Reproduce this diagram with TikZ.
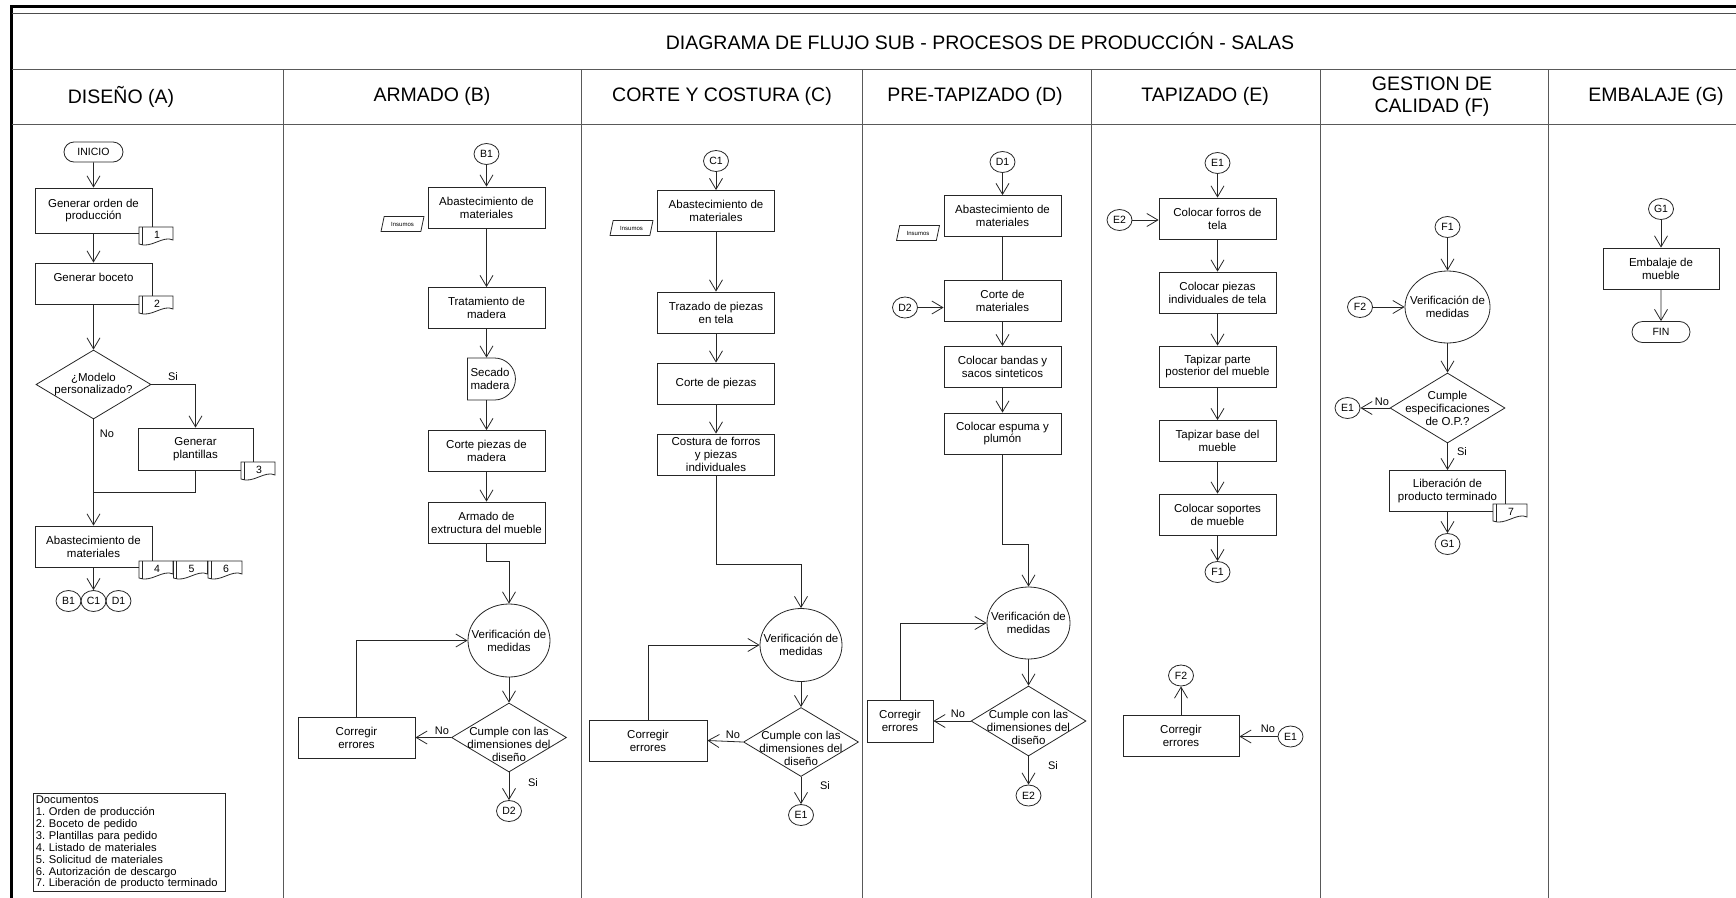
\documentclass[tikz,border=0pt]{standalone}
\usepackage{fontspec}
\setmainfont{Liberation Sans}
\usetikzlibrary{arrows.meta,shapes.geometric,shapes.misc,calc}
\frenchspacing
\newcommand{\bodyfont}{\fontsize{11.5}{12.9}\selectfont}
\tikzset{
  ln/.style={line width=0.8pt, draw=black!85},
  arr/.style={ln, -{Straight Barb[length=11pt,width=13pt]}},
  lane/.style={line width=1pt, draw=black!65},
  procbox/.style={ln, rectangle, minimum width=117pt, minimum height=41pt, align=center, inner sep=1pt, font=\bodyfont},
  dec/.style={ln, diamond, minimum width=115pt, minimum height=69pt, inner sep=0pt},
  ver/.style={ln, ellipse, minimum width=82pt, minimum height=73pt, inner sep=0pt},
  txt/.style={align=center, font=\bodyfont, inner sep=0pt},
  conn/.style={ln, ellipse, minimum width=25pt, minimum height=21pt, inner sep=0pt, font=\fontsize{10.5}{11}\selectfont},
  termn/.style={ln, rounded rectangle, minimum width=59pt, minimum height=20pt, inner sep=0pt, font=\fontsize{10.5}{11}\selectfont},
  delayn/.style={ln, rounded rectangle, rounded rectangle left arc=none, minimum width=48pt, minimum height=42pt, align=center, inner sep=0pt, font=\bodyfont},
  insn/.style={ln, trapezium, trapezium left angle=65, trapezium right angle=115, trapezium stretches=true, minimum width=43pt, minimum height=15pt, inner sep=0pt, font=\fontsize{6}{6}\selectfont},
  docn/.style={inner sep=0pt, font=\fontsize{10.5}{11}\selectfont},
  lbl/.style={inner sep=1pt, font=\fontsize{11}{12}\selectfont},
  hdr/.style={align=center, font=\fontsize{19.5}{22}\selectfont, inner sep=0pt}
}
\newcommand{\docsym}[4]{%
  \draw[ln, fill=white] ({#2-17},{#3-9}) -- ({#2+17},{#3-9}) -- ({#2+17},{#3+4})
     .. controls ({#2+7},{#3-1}) and ({#2-5},{#3+13}) .. ({#2-17},{#3+8}) -- cycle;
  \draw[ln] ({#2-14},{#3-9}) -- ({#2-14},{#3+8.6});
  \node[docn] (#1) at ({#2+1},{#3-1.5}) {#4};
}
\begin{document}
\begin{tikzpicture}[x=1pt,y=-1pt]
\useasboundingbox (0,0) rectangle (1736,897);
% frame and lanes
\draw[line width=3pt] (11,920) -- (11,6) -- (1760,6);
\draw[line width=0.8pt, draw=black!70] (12,13.5) -- (1760,13.5);
\draw[lane] (12,69) -- (1760,69);
\draw[lane] (12,124) -- (1760,124);
\foreach \xx in {283,581,862,1091,1320,1548} \draw[lane] (\xx,69) -- (\xx,920);
% titles
\node[hdr] (title) at (980,41) {DIAGRAMA DE FLUJO SUB - PROCESOS DE PRODUCCIÓN - SALAS};
\node[hdr] (hA) at (121,96.5) {DISEÑO (A)};
\node[hdr] (hB) at (432,96.5) {ARMADO (B)};
\node[hdr] (hC) at (722,96.5) {CORTE Y COSTURA (C)};
\node[hdr] (hD) at (975,96.5) {PRE-TAPIZADO (D)};
\node[hdr] (hE) at (1205,96.5) {TAPIZADO (E)};
\node[hdr] (hF) at (1432,96.5) {GESTION DE\\CALIDAD (F)};
\node[hdr] (hG) at (1656,96.5) {EMBALAJE (G)};

% ---------- DISEÑO ----------
\node[termn] (ini) at (93.5,152) {INICIO};
\node[procbox, minimum height=45pt] (a1) at (93.5,210.5) {Generar orden de\\producción};
\docsym{doc1}{156}{236}{1}
\node[procbox] (a2) at (93.5,283.5) {Generar boceto\\~};
\docsym{doc2}{156}{305}{2}
\node[dec] (a3) at (93.5,384.5) {};
\node[txt] (a3t) at (93.5,384.5) {¿Modelo\\personalizado?};
\node[procbox, minimum width=115pt, minimum height=42pt] (a4) at (195.5,449) {Generar\\plantillas};
\docsym{doc3}{258}{471}{3}
\coordinate (m1) at (93.5,492);
\node[procbox] (a5) at (93.5,546.5) {Abastecimiento de\\materiales};
\docsym{doc4}{156}{570}{4}
\docsym{doc5}{190.5}{570}{5}
\docsym{doc6}{225}{570}{6}
\node[conn] (cb1) at (68.5,601) {B1};
\node[conn] (cc1) at (93.5,601) {C1};
\node[conn] (cd1) at (118.5,601) {D1};
\node[ln, anchor=north west, align=left, text width=187pt, inner sep=2.5pt, font=\fontsize{11.2}{11.9}\selectfont] (docs) at (33,793)
 {Documentos\\1. Orden de producción\\2. Boceto de pedido\\3. Plantillas para pedido\\4. Listado de materiales\\5. Solicitud de materiales\\6. Autorización de descargo\\7. Liberación de producto terminado};
\draw[arr] (ini) -- (a1);
\draw[arr] (a1) -- (a2);
\draw[arr] (a2) -- (a3);
\draw[arr] (a3.east) -| (a4.north);
\node[lbl] (lsi1) at (173,377) {Si};
\draw[ln] (a3.south) -- (m1);
\node[lbl] (lno1) at (107,434) {No};
\draw[ln] (a4.south) |- (m1);
\draw[arr] (m1) -- (a5);
\draw[arr] (a5) -- (cc1);

% ---------- ARMADO ----------
\node[conn] (cb1b) at (486.5,154) {B1};
\node[procbox] (b1) at (486.5,207.5) {Abastecimiento de\\materiales};
\node[insn] (ins1) at (402.5,224) {Insumos};
\node[procbox] (b2) at (486.5,308) {Tratamiento de\\madera};
\node[delayn] (b3) at (490,379) {Secado\\madera};
\node[procbox] (b4) at (486.5,451) {Corte piezas de\\madera};
\node[procbox] (b5) at (486.5,522.5) {Armado de\\extructura del mueble};
\node[ver] (b6) at (509,640.5) {};
\node[txt] (b6t) at (509,640.5) {Verificación de\\medidas};
\node[dec] (b7) at (509,737.5) {};
\node[txt] (b7t) at (509,744) {Cumple con las\\dimensiones del\\diseño};
\node[procbox] (b8) at (356.5,737.5) {Corregir\\errores};
\node[conn] (cd2a) at (509,811) {D2};
\draw[arr] (cb1b) -- (b1);
\draw[arr] (b1) -- (b2);
\draw[arr] (b2.south) -- (b2.south |- b3.north);
\draw[arr] (b2.south |- b3.south) -- (b4.north);
\draw[arr] (b4) -- (b5);
\draw[arr] (b5.south) -- ++(0,17.5) -| (b6.north);
\draw[arr] (b6) -- (b7);
\draw[arr] (b7.west) -- (b8.east);
\node[lbl] (lno2) at (442,731) {No};
\draw[arr] (b8.north) |- (b6.west);
\draw[arr] (b7.south) -- (cd2a.north);
\node[lbl] (lsi2) at (533,783) {Si};

% ---------- CORTE Y COSTURA ----------
\node[conn] (cc1b) at (716,161) {C1};
\node[procbox] (c1) at (716,211) {Abastecimiento de\\materiales};
\node[insn] (ins2) at (631.5,228) {Insumos};
\node[procbox] (c2) at (716,312.5) {Trazado de piezas\\en tela};
\node[procbox] (c3) at (716,383.5) {Corte de piezas};
\node[procbox] (c4) at (716,454.5) {Costura de forros\\y piezas\\individuales};
\node[ver] (c5) at (801,645) {};
\node[txt] (c5t) at (801,645) {Verificación de\\medidas};
\node[dec] (c6) at (801,742) {};
\node[txt] (c6t) at (801,748) {Cumple con las\\dimensiones del\\diseño};
\node[procbox, minimum width=118pt] (c7) at (648,740.5) {Corregir\\errores};
\node[conn] (ce1a) at (801,815) {E1};
\draw[arr] (cc1b) -- (c1);
\draw[arr] (c1) -- (c2);
\draw[arr] (c2) -- (c3);
\draw[arr] (c3) -- (c4);
\draw[arr] (c4.south) -- ++(0,88.5) -| (c5.north);
\draw[arr] (c5) -- (c6);
\draw[arr] (c6.west) -- (c7.east);
\node[lbl] (lno3) at (733,735) {No};
\draw[arr] (c7.north) |- (c5.west);
\draw[arr] (c6.south) -- (ce1a.north);
\node[lbl] (lsi3) at (825,786) {Si};

% ---------- PRE-TAPIZADO ----------
\node[conn] (cd1b) at (1002.5,162) {D1};
\node[procbox] (d1) at (1002.5,216) {Abastecimiento de\\materiales};
\node[insn] (ins3) at (918,233) {Insumos};
\node[procbox] (d2) at (1002.5,300.5) {Corte de\\materiales};
\node[conn] (cd2b) at (905,307.5) {D2};
\node[procbox] (d3) at (1002.5,367) {Colocar bandas y\\sacos sinteticos};
\node[procbox] (d4) at (1002.5,433.5) {Colocar espuma y\\plumón};
\node[ver, minimum width=83pt, minimum height=72pt] (d5) at (1028.5,623) {};
\node[txt] (d5t) at (1028.5,623) {Verificación de\\medidas};
\node[dec, minimum height=70pt] (d6) at (1028.5,721) {};
\node[txt] (d6t) at (1028.5,727) {Cumple con las\\dimensiones del\\diseño};
\node[procbox, minimum width=66pt, minimum height=42pt] (d7) at (900,721) {Corregir\\errores};
\node[conn] (ce2a) at (1028.5,795.5) {E2};
\draw[arr] (cd1b) -- (d1);
\draw[ln] (d1) -- (d2);
\draw[arr] (cd2b.east) -- (cd2b.east -| d2.west);
\draw[arr] (d2) -- (d3);
\draw[arr] (d3) -- (d4);
\draw[arr] (d4.south) -- ++(0,89.5) -| (d5.north);
\draw[arr] (d5) -- (d6);
\draw[arr] (d6.west) -- (d7.east);
\node[lbl] (lno4) at (958,714) {No};
\draw[arr] (d7.north) |- (d5.west);
\draw[arr] (d6.south) -- (ce2a.north);
\node[lbl] (lsi4) at (1053,766) {Si};

% ---------- TAPIZADO ----------
\node[conn] (ce1b) at (1217.5,163) {E1};
\node[procbox] (e1) at (1217.5,218.5) {Colocar forros de\\tela};
\node[conn] (ce2b) at (1119.5,220) {E2};
\node[procbox] (e2) at (1217.5,292.5) {Colocar piezas\\individuales de tela};
\node[procbox] (e3) at (1217.5,366.5) {Tapizar parte\\posterior del mueble};
\node[procbox] (e4) at (1217.5,441) {Tapizar base del\\mueble};
\node[procbox] (e5) at (1217.5,514.5) {Colocar soportes\\de mueble};
\node[conn] (cf1a) at (1217.5,572) {F1};
\node[conn] (cf2a) at (1181,675.5) {F2};
\node[procbox, minimum width=116pt] (e6) at (1181,735.5) {Corregir\\errores};
\node[conn] (ce1c) at (1290.5,736.5) {E1};
\draw[arr] (ce1b) -- (e1);
\draw[arr] (ce2b.east) -- (ce2b.east -| e1.west);
\draw[arr] (e1) -- (e2);
\draw[arr] (e2) -- (e3);
\draw[arr] (e3) -- (e4);
\draw[arr] (e4) -- (e5);
\draw[arr] (e5) -- (cf1a);
\draw[arr] (e6.north) -- (cf2a.south);
\draw[arr] (ce1c.west) -- (ce1c.west -| e6.east);
\node[lbl] (lno5) at (1268,729) {No};

% ---------- GESTION DE CALIDAD ----------
\node[conn] (cf1b) at (1447.5,227) {F1};
\node[ver, minimum width=85pt, minimum height=72pt] (f1) at (1447.5,307) {};
\node[txt] (f1t) at (1447.5,307) {Verificación de\\medidas};
\node[conn] (cf2b) at (1360,307) {F2};
\node[dec, minimum height=70pt] (f2) at (1447.5,408) {};
\node[txt] (f2t) at (1447.5,408) {Cumple\\especificaciones\\de O.P.?};
\node[conn] (ce1d) at (1347.5,408) {E1};
\node[procbox, minimum width=116pt] (f3) at (1447.5,491) {Liberación de\\producto terminado};
\docsym{doc7}{1510}{513}{7}
\node[conn] (cg1a) at (1447.5,544) {G1};
\draw[arr] (cf1b) -- (f1);
\draw[arr] (cf2b) -- (f1.west);
\draw[arr] (f1) -- (f2);
\draw[arr] (f2.west) -- (ce1d.east);
\node[lbl] (lno6) at (1382,402) {No};
\draw[arr] (f2.south) -- (f3.north);
\node[lbl] (lsi6) at (1462,452) {Si};
\draw[arr] (f3) -- (cg1a);

% ---------- EMBALAJE ----------
\node[conn] (cg1b) at (1661,209) {G1};
\node[procbox, minimum width=116pt] (g1) at (1661,268.5) {Embalaje de\\mueble};
\node[termn, minimum width=58pt, minimum height=21pt] (fin) at (1661,332) {FIN};
\draw[arr] (cg1b) -- (g1);
\draw[arr] (g1) -- (fin);
\end{tikzpicture}
\end{document}
